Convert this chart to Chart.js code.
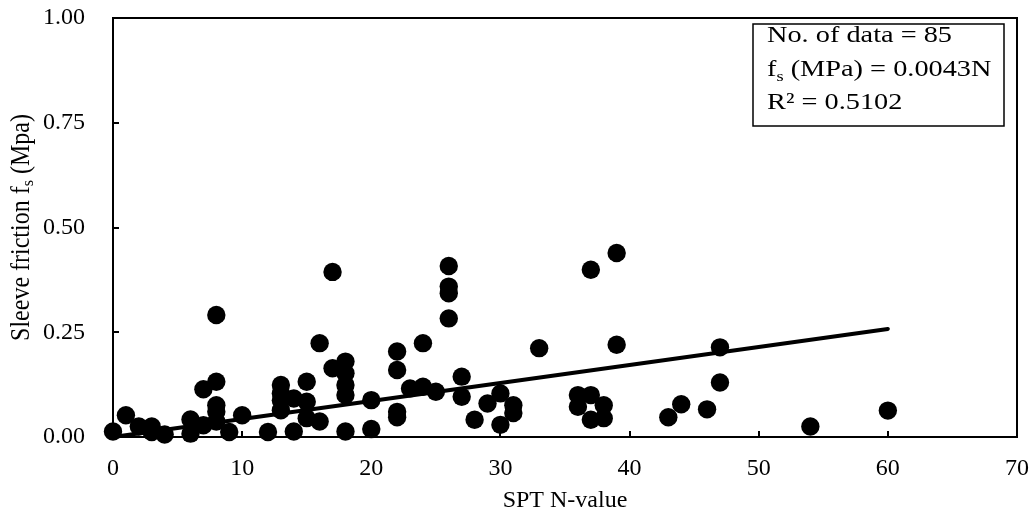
<!DOCTYPE html>
<html>
<head>
<meta charset="utf-8">
<script src="https://cdn.jsdelivr.net/npm/chart.js@4/dist/chart.umd.min.js"></script>
<style>
  html, body { margin: 0; padding: 0; background: #fff; }
  canvas { display: block; }
</style>
</head>
<body>
<canvas id="c" width="1035" height="519"></canvas>
<script>
// SPT N-value of each measurement
const nValues = [
  0, 1, 2, 3, 3, 4, 6, 6, 7, 7,
  8, 8, 8, 8, 8, 9, 10, 12, 13, 13,
  13, 13, 14, 14, 15, 15, 15, 16, 16, 17,
  17, 18, 18, 18, 18, 18, 20, 20, 22, 22,
  22, 22, 23, 24, 24, 25, 26, 26, 26, 26,
  27, 27, 28, 29, 30, 30, 31, 31, 33, 36,
  36, 37, 37, 37, 38, 38, 39, 39, 43, 44,
  46, 47, 47, 54, 60
];
// Sleeve friction fs (MPa) of each measurement
const fsValues = [
  0.013, 0.052, 0.025, 0.025, 0.012, 0.006, 0.042, 0.008, 0.114, 0.028,
  0.291, 0.132, 0.076, 0.060, 0.037, 0.012, 0.052, 0.012, 0.124, 0.104,
  0.088, 0.064, 0.092, 0.013, 0.132, 0.084, 0.045, 0.224, 0.037, 0.394,
  0.164, 0.180, 0.152, 0.124, 0.100, 0.013, 0.088, 0.019, 0.204, 0.160,
  0.060, 0.047, 0.116, 0.224, 0.120, 0.108, 0.408, 0.359, 0.343, 0.283,
  0.144, 0.096, 0.041, 0.080, 0.104, 0.029, 0.076, 0.057, 0.212, 0.100,
  0.072, 0.399, 0.100, 0.041, 0.076, 0.045, 0.439, 0.220, 0.047, 0.078,
  0.066, 0.214, 0.130, 0.025, 0.063
];
// Regression line fs = 0.0043 N
const trendN = [0, 60];
const trendSlope = 0.0043;
// Tick labels
const xTickValues = [0, 10, 20, 30, 40, 50, 60, 70];
const yTickLabels = ['0.00', '0.25', '0.50', '0.75', '1.00'];
// Annotation text
const noteLines = ['No. of data = 85', 'f|s| (MPa) = 0.0043N', 'R² = 0.5102'];
const yTitleParts = ['Sleeve friction f', 's', ' (Mpa)'];
const xTitle = 'SPT N-value';

const FONT = '"Liberation Serif", "Times New Roman", Times, serif';

const points = nValues.map((n, i) => ({ x: n, y: fsValues[i] }));
const trend = trendN.map(n => ({ x: n, y: trendSlope * n }));

const framePlugin = {
  id: 'frame',
  beforeDatasetsDraw(chart) {
    const ctx = chart.ctx;
    const a = chart.chartArea;
    const xs = chart.scales.x, ys = chart.scales.y;
    ctx.save();
    ctx.strokeStyle = '#000';
    ctx.lineWidth = 2;
    ctx.strokeRect(a.left, a.top, a.right - a.left, a.bottom - a.top);
    // inner tick marks
    ctx.beginPath();
    xs.ticks.forEach(t => {
      const px = Math.round(xs.getPixelForValue(t.value));
      ctx.moveTo(px, a.bottom);
      ctx.lineTo(px, a.bottom - 6);
    });
    ys.ticks.forEach(t => {
      const py = Math.round(ys.getPixelForValue(t.value));
      ctx.moveTo(a.left, py);
      ctx.lineTo(a.left + 6, py);
    });
    ctx.stroke();
    ctx.restore();
  },
  afterDraw(chart) {
    const ctx = chart.ctx;
    const a = chart.chartArea;
    ctx.save();
    // y-axis title with subscript
    ctx.save();
    ctx.translate(22, (a.top + a.bottom) / 2);
    ctx.rotate(-Math.PI / 2);
    ctx.scale(1, 1.1);
    ctx.fillStyle = '#000';
    ctx.textBaseline = 'middle';
    const big = '24px ' + FONT;
    const small = '16px ' + FONT;
    ctx.font = big;
    const w0 = ctx.measureText(yTitleParts[0]).width;
    const w2 = ctx.measureText(yTitleParts[2]).width;
    ctx.font = small;
    const w1 = ctx.measureText(yTitleParts[1]).width;
    let x0 = -(w0 + w1 + w2) / 2;
    ctx.font = big;
    ctx.fillText(yTitleParts[0], x0, 0);
    ctx.font = small;
    ctx.fillText(yTitleParts[1], x0 + w0, 6);
    ctx.font = big;
    ctx.fillText(yTitleParts[2], x0 + w0 + w1, 0);
    ctx.restore();

    // annotation box
    const bx = 753, by = 24, bw = 251, bh = 102;
    ctx.fillStyle = '#fff';
    ctx.fillRect(bx, by, bw, bh);
    ctx.strokeStyle = '#000';
    ctx.lineWidth = 1.5;
    ctx.strokeRect(bx, by, bw, bh);
    ctx.fillStyle = '#000';
    ctx.textBaseline = 'alphabetic';
    const lineFont = '23px ' + FONT;
    const subFont = '15px ' + FONT;
    ctx.font = lineFont;
    const sx = 185 / ctx.measureText(noteLines[0]).width;
    const baselines = [42, 76, 109];
    noteLines.forEach((line, i) => {
      ctx.save();
      ctx.translate(bx + 14, baselines[i]);
      ctx.scale(sx, 1);
      const parts = line.split('|');
      let cx = 0;
      parts.forEach((p, j) => {
        const isSub = j % 2 === 1;
        ctx.font = isSub ? subFont : lineFont;
        ctx.fillText(p, cx, isSub ? 5 : 0);
        cx += ctx.measureText(p).width;
      });
      ctx.restore();
    });
    ctx.restore();
  }
};

new Chart(document.getElementById('c'), {
  type: 'scatter',
  data: {
    datasets: [
      {
        data: points,
        backgroundColor: '#000',
        borderColor: '#000',
        borderWidth: 0,
        pointRadius: 9.2,
        pointHoverRadius: 9.2,
        clip: false
      },
      {
        type: 'line',
        data: trend,
        borderColor: '#000',
        borderWidth: 4,
        pointRadius: 0,
        fill: false,
        showLine: true,
        borderCapStyle: 'round',
        clip: false
      }
    ]
  },
  options: {
    responsive: false,
    animation: false,
    devicePixelRatio: 1,
    layout: { padding: { left: 0, right: 18, top: 18, bottom: 0 } },
    plugins: { legend: { display: false }, tooltip: { enabled: false } },
    scales: {
      x: {
        type: 'linear',
        min: xTickValues[0],
        max: xTickValues[xTickValues.length - 1],
        afterBuildTicks(scale) { scale.ticks = xTickValues.map(v => ({ value: v })); },
        ticks: { color: '#000', font: { family: FONT, size: 24 }, padding: 9, maxRotation: 0 },
        grid: { display: false },
        border: { display: false },
        title: { display: true, text: xTitle, color: '#000', font: { family: FONT, size: 24 }, padding: { top: 0, bottom: 4 } },
        afterFit(scale) {
          scale.height = 82;
          scale.paddingLeft = 0; scale.paddingRight = 0;
        }
      },
      y: {
        type: 'linear',
        min: 0,
        max: 1,
        afterBuildTicks(scale) { scale.ticks = yTickLabels.map(l => ({ value: parseFloat(l) })); },
        ticks: {
          color: '#000', font: { family: FONT, size: 24 }, padding: 20,
          callback: (v) => yTickLabels.find(l => parseFloat(l) === v)
        },
        grid: { display: false },
        border: { display: false },
        afterFit(scale) {
          scale.width = 113;
          scale.paddingTop = 0; scale.paddingBottom = 0;
        }
      }
    }
  },
  plugins: [framePlugin]
});
</script>
</body>
</html>
